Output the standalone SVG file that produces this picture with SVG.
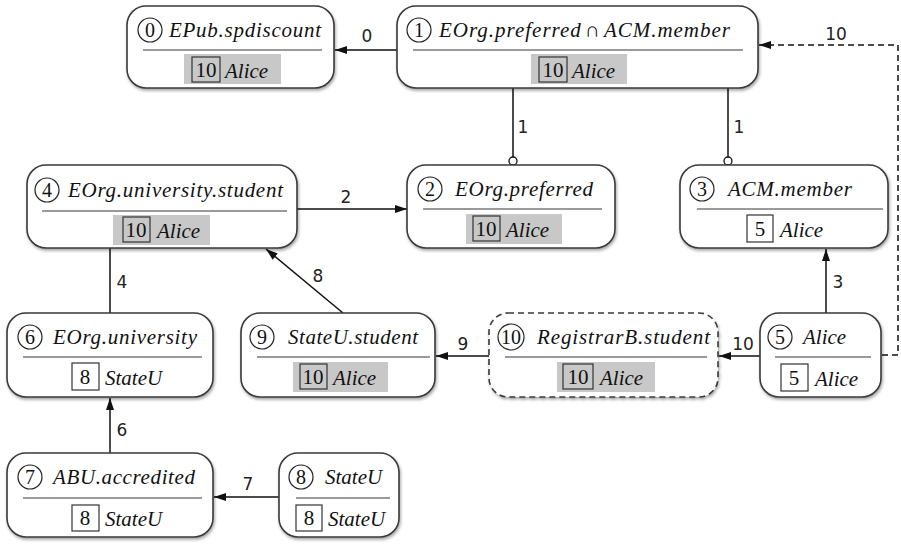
<svg xmlns="http://www.w3.org/2000/svg" width="901" height="544" viewBox="0 0 901 544">
<style>
.box{fill:#fff;stroke:#3a3a3a;stroke-width:1.6;filter:url(#sh)}
.dash{stroke-dasharray:6 4}
.sep{stroke:#9a9a9a;stroke-width:2}
.num{fill:none;stroke:#222;stroke-width:1.2}
.nt{font-size:20px;fill:#111;text-anchor:middle}
.t{font-style:italic;font-size:21px;fill:#111}
.v{font-size:21px;fill:#111;text-anchor:middle}
.g{fill:#c8c8c8}
.sq{fill:#fff;stroke:#333;stroke-width:1.2}
.sqg{fill:none;stroke:#333;stroke-width:1.2}
.e{stroke:#111;stroke-width:1.5;fill:none}
.lbl{font-size:17px;fill:#222;text-anchor:middle}
</style>
<defs>
<filter id="sh" x="-10%" y="-10%" width="130%" height="140%">
<feDropShadow dx="1" dy="2" stdDeviation="1.5" flood-color="#000" flood-opacity="0.35"/>
</filter>
<marker id="arr" viewBox="0 0 12 8" refX="12" refY="4" markerWidth="12" markerHeight="8" markerUnits="userSpaceOnUse" orient="auto">
<path d="M0,0 L12,4 L0,8 z" fill="#111"/>
</marker>
</defs>

<g id="connectors" font-family="DejaVu Sans, sans-serif">
<line class="e" x1="397" y1="50" x2="335" y2="50" marker-end="url(#arr)"/>
<text class="lbl" x="367" y="42">0</text>
<polyline class="e dash" points="882,355 898,355 898,45 759,45" marker-end="url(#arr)"/>
<text class="lbl" x="836" y="40">10</text>
<line class="e" x1="513" y1="88" x2="513" y2="157"/>
<circle cx="513" cy="161" r="4" fill="#fff" stroke="#111" stroke-width="1.3"/>
<text class="lbl" x="523" y="133">1</text>
<line class="e" x1="728" y1="88" x2="728" y2="157"/>
<circle cx="728" cy="161" r="4" fill="#fff" stroke="#111" stroke-width="1.3"/>
<text class="lbl" x="739" y="133">1</text>
<line class="e" x1="297" y1="209" x2="407" y2="209" marker-end="url(#arr)"/>
<text class="lbl" x="346" y="203">2</text>
<line class="e" x1="110" y1="248" x2="110" y2="313"/>
<text class="lbl" x="122" y="288">4</text>
<line class="e" x1="343" y1="313" x2="266" y2="249" marker-end="url(#arr)"/>
<text class="lbl" x="318" y="282">8</text>
<line class="e" x1="826" y1="313" x2="826" y2="249" marker-end="url(#arr)"/>
<text class="lbl" x="838" y="288">3</text>
<line class="e" x1="489" y1="356" x2="436" y2="356" marker-end="url(#arr)"/>
<text class="lbl" x="463" y="350">9</text>
<line class="e" x1="760" y1="356" x2="719" y2="356" marker-end="url(#arr)"/>
<text class="lbl" x="743" y="350">10</text>
<line class="e" x1="110" y1="453" x2="110" y2="398" marker-end="url(#arr)"/>
<text class="lbl" x="122" y="436">6</text>
<line class="e" x1="279" y1="497" x2="214" y2="497" marker-end="url(#arr)"/>
<text class="lbl" x="248" y="490">7</text>
</g>

<g id="nodes" font-family="Liberation Serif, Times New Roman, DejaVu Serif, serif">
<g id="n0">
<rect class="box" x="127" y="6" width="207" height="82" rx="19"/>
<circle class="num" cx="150" cy="30" r="12"/><text class="nt" x="150" y="37">0</text>
<text class="t" x="169" y="37" textLength="152">EPub.spdiscount</text>
<line class="sep" x1="143" y1="50" x2="322" y2="50"/>
<rect class="g" x="184" y="54" width="97" height="30"/>
<rect class="sqg" x="192" y="57" width="28" height="25"/>
<text class="v" x="206" y="77">10</text>
<text class="t" x="225" y="78">Alice</text>
</g>

<g id="n1">
<rect class="box" x="397" y="6" width="361" height="82" rx="19"/>
<circle class="num" cx="419" cy="30" r="12"/><text class="nt" x="419" y="37">1</text>
<text class="t" x="439" y="37" textLength="291">EOrg.preferred<tspan font-style="normal" dx="3">∩</tspan><tspan dx="3">ACM.member</tspan></text>
<line class="sep" x1="413" y1="50" x2="743" y2="50"/>
<rect class="g" x="531" y="54" width="96" height="30"/>
<rect class="sqg" x="539" y="57" width="28" height="25"/>
<text class="v" x="553" y="77">10</text>
<text class="t" x="572" y="78">Alice</text>
</g>

<g id="n2">
<rect class="box" x="407" y="165" width="208" height="83" rx="19"/>
<circle class="num" cx="430" cy="189" r="12"/><text class="nt" x="430" y="196">2</text>
<text class="t" x="455" y="196" textLength="138">EOrg.preferred</text>
<line class="sep" x1="423" y1="209" x2="602" y2="209"/>
<rect class="g" x="466" y="214" width="96" height="30"/>
<rect class="sqg" x="473" y="216" width="27" height="25"/>
<text class="v" x="486" y="236">10</text>
<text class="t" x="506" y="237">Alice</text>
</g>

<g id="n3">
<rect class="box" x="680" y="165" width="208" height="83" rx="19"/>
<circle class="num" cx="702" cy="189" r="12"/><text class="nt" x="702" y="196">3</text>
<text class="t" x="728" y="196" textLength="124">ACM.member</text>
<line class="sep" x1="697" y1="209" x2="883" y2="209"/>
<rect class="sq" x="747" y="215" width="26" height="27"/>
<text class="v" x="760" y="236">5</text>
<text class="t" x="780" y="237">Alice</text>
</g>

<g id="n4">
<rect class="box" x="27" y="165" width="270" height="83" rx="19"/>
<circle class="num" cx="47" cy="190" r="12"/><text class="nt" x="47" y="197">4</text>
<text class="t" x="68" y="197" textLength="215">EOrg.university.student</text>
<line class="sep" x1="42" y1="211" x2="287" y2="211"/>
<rect class="g" x="113" y="215" width="97" height="30"/>
<rect class="sqg" x="123" y="217" width="27" height="25"/>
<text class="v" x="136" y="237">10</text>
<text class="t" x="157" y="238">Alice</text>
</g>

<g id="n5">
<rect class="box" x="760" y="313" width="121" height="84" rx="19"/>
<circle class="num" cx="780" cy="337" r="12"/><text class="nt" x="780" y="344">5</text>
<text class="t" x="803" y="344">Alice</text>
<line class="sep" x1="775" y1="357" x2="871" y2="357"/>
<rect class="sq" x="781" y="364" width="27" height="27"/>
<text class="v" x="794" y="385">5</text>
<text class="t" x="815" y="386">Alice</text>
</g>

<g id="n6">
<rect class="box" x="7" y="313" width="206" height="84" rx="19"/>
<circle class="num" cx="30" cy="337" r="12"/><text class="nt" x="30" y="344">6</text>
<text class="t" x="53" y="344" textLength="144">EOrg.university</text>
<line class="sep" x1="23" y1="357" x2="202" y2="357"/>
<rect class="sq" x="72" y="363" width="27" height="27"/>
<text class="v" x="85" y="384">8</text>
<text class="t" x="105" y="385">StateU</text>
</g>

<g id="n7">
<rect class="box" x="7" y="453" width="206" height="84" rx="19"/>
<circle class="num" cx="30" cy="477" r="12"/><text class="nt" x="30" y="484">7</text>
<text class="t" x="53" y="484" textLength="142">ABU.accredited</text>
<line class="sep" x1="23" y1="498" x2="202" y2="498"/>
<rect class="sq" x="72" y="505" width="27" height="26"/>
<text class="v" x="85" y="525">8</text>
<text class="t" x="105" y="526">StateU</text>
</g>

<g id="n8">
<rect class="box" x="279" y="453" width="120" height="84" rx="19"/>
<circle class="num" cx="301" cy="477" r="12"/><text class="nt" x="301" y="484">8</text>
<text class="t" x="325" y="484">StateU</text>
<line class="sep" x1="296" y1="498" x2="390" y2="498"/>
<rect class="sq" x="296" y="505" width="26" height="26"/>
<text class="v" x="309" y="525">8</text>
<text class="t" x="328" y="526">StateU</text>
</g>

<g id="n9">
<rect class="box" x="241" y="313" width="194" height="84" rx="19"/>
<circle class="num" cx="262" cy="337" r="12"/><text class="nt" x="262" y="344">9</text>
<text class="t" x="288" y="344" textLength="130">StateU.student</text>
<line class="sep" x1="257" y1="357" x2="430" y2="357"/>
<rect class="g" x="293" y="362" width="95" height="30"/>
<rect class="sqg" x="300" y="364" width="27" height="25"/>
<text class="v" x="313" y="384">10</text>
<text class="t" x="333" y="385">Alice</text>
</g>

<g id="n10">
<rect class="box dash" x="489" y="313" width="229" height="84" rx="19"/>
<circle class="num" cx="511" cy="337" r="13"/><text class="nt" x="511" y="344" font-size="18">10</text>
<text class="t" x="537" y="344" textLength="173">RegistrarB.student</text>
<line class="sep" x1="505" y1="357" x2="707" y2="357"/>
<rect class="g" x="557" y="362" width="98" height="30"/>
<rect class="sqg" x="563" y="364" width="30" height="25"/>
<text class="v" x="578" y="384">10</text>
<text class="t" x="600" y="385">Alice</text>
</g>
</g>
</svg>
